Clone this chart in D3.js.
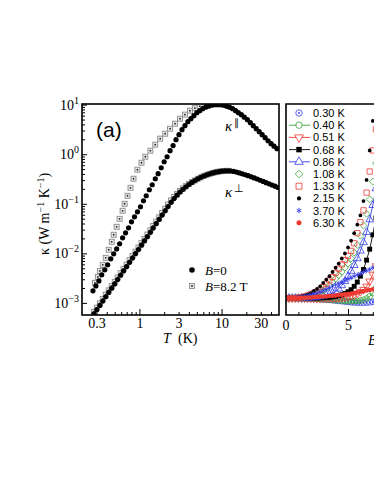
<!DOCTYPE html>
<html><head><meta charset="utf-8">
<script src="https://cdn.jsdelivr.net/npm/d3@7"></script>
<style>
html,body{margin:0;padding:0;background:#fff;}
svg{display:block;}
</style></head><body>
<div id="chart"></div>
<script>
// ---- panel (a): kappa vs T, [T (K), kappa (W/mK)] ----
const kParB0 = [[0.272,0.00175],[0.295,0.0022],[0.321,0.00278],[0.348,0.00368],[0.379,0.00464],[0.411,0.00586],[0.448,0.00775],[0.486,0.00977],[0.528,0.0123],[0.574,0.0156],[0.624,0.0206],[0.678,0.0259],[0.737,0.0327],[0.801,0.0432],[0.871,0.0545],[0.946,0.0688],[1.03,0.0868],[1.12,0.115],[1.21,0.145],[1.32,0.192],[1.43,0.242],[1.56,0.32],[1.69,0.404],[1.84,0.533],[2.0,0.705],[2.17,0.889],[2.36,1.18],[2.57,1.49],[2.79,1.96],[3.03,2.48],[3.3,3.13],[3.58,3.77],[3.89,4.54],[4.23,5.21],[4.6,6.0],[5.0,6.89],[5.43,7.57],[5.9,8.3],[6.41,8.9],[6.97,9.33],[7.58,9.77],[8.24,10.0],[8.95,10.0],[9.73,10.0],[10.6,9.77],[11.5,9.33],[12.5,8.9],[13.6,8.3],[14.8,7.57],[16.0,6.89],[17.4,6.28],[18.9,5.59],[20.6,4.98],[22.4,4.33],[24.3,3.77],[26.4,3.27],[28.7,2.85],[31.2,2.48],[33.9,2.15],[36.8,1.87],[40.0,1.63],[43.5,1.45],[47.3,1.29]];
const kParB82 = [[0.287,0.00254],[0.312,0.00335],[0.33,0.00442],[0.358,0.00586],[0.389,0.00811],[0.423,0.0118],[0.46,0.0171],[0.486,0.0237],[0.528,0.0343],[0.574,0.0497],[0.624,0.0722],[0.66,0.1],[0.717,0.145],[0.779,0.21],[0.847,0.32],[0.946,0.486],[1.06,0.673],[1.18,0.889],[1.36,1.18],[1.56,1.56],[1.79,2.06],[2.06,2.59],[2.36,3.27],[2.71,4.13],[3.12,5.21],[3.58,6.28],[4.12,7.57],[4.73,8.49],[5.43,9.33],[6.24,10.0],[7.17,10.2],[8.24,10.3],[9.46,10.2]];
const kPerpB0 = [[0.279,0.0006],[0.303,0.00073],[0.33,0.00089],[0.358,0.00109],[0.389,0.00133],[0.423,0.00163],[0.46,0.00198],[0.5,0.00242],[0.543,0.00296],[0.59,0.00361],[0.641,0.00441],[0.697,0.00538],[0.758,0.00658],[0.824,0.00804],[0.895,0.00982],[0.973,0.0119],[1.06,0.0146],[1.15,0.0178],[1.25,0.0217],[1.36,0.0265],[1.47,0.0324],[1.6,0.0396],[1.74,0.0484],[1.89,0.0591],[2.06,0.0722],[2.23,0.0877],[2.43,0.107],[2.64,0.127],[2.87,0.149],[3.12,0.172],[3.39,0.196],[3.68,0.22],[4.0,0.245],[4.35,0.27],[4.73,0.294],[5.14,0.318],[5.58,0.341],[6.07,0.363],[6.6,0.384],[7.17,0.402],[7.79,0.419],[8.47,0.433],[9.2,0.445],[10.0,0.454],[10.9,0.46],[11.8,0.462],[12.8,0.46],[14.0,0.45],[15.2,0.435],[16.5,0.419],[17.9,0.402],[19.5,0.385],[21.1,0.368],[23.0,0.349],[25.0,0.332],[27.2,0.316],[29.5,0.298],[32.1,0.282],[34.8,0.267],[37.9,0.252],[41.1,0.239],[44.7,0.226],[48.6,0.213]];
const kPerpB82 = [[0.279,0.00066],[0.303,0.0008],[0.33,0.00098],[0.358,0.0012],[0.389,0.00146],[0.423,0.00179],[0.46,0.00218],[0.5,0.00266],[0.543,0.00326],[0.59,0.00397],[0.641,0.00485],[0.697,0.00592],[0.758,0.00724],[0.824,0.00884],[0.895,0.0108],[0.973,0.0131],[1.06,0.0161],[1.15,0.0196],[1.25,0.0239],[1.36,0.0292],[1.47,0.0356],[1.6,0.0436],[1.74,0.0532],[1.89,0.065],[2.06,0.0794],[2.23,0.0965],[2.43,0.117],[2.64,0.137],[2.87,0.158],[3.12,0.181],[3.39,0.204],[3.68,0.227],[4.0,0.25],[4.35,0.273],[4.73,0.296],[5.14,0.319],[5.58,0.341],[6.07,0.363],[6.6,0.384],[7.17,0.402],[7.79,0.419],[8.47,0.433],[9.2,0.445],[10.0,0.454],[10.9,0.46],[11.8,0.462]];

const tTickLabels = [0.3, 1, 3, 10, 30];
const kDecades = [-3, -2, -1, 0, 1];

// ---- panel (b): kappa(B)/kappa(0) vs B at fixed T ----
const fieldB = [0,0.25,0.5,0.75,1,1.25,1.5,1.75,2,2.25,2.5,2.75,3,3.25,3.5,3.75,4,4.25,4.5,4.75,5,5.25,5.5,5.75,6,6.25,6.5,6.75,7,7.25];
const k030 = [1.0,1.0,0.999,0.998,0.997,0.996,0.995,0.994,0.993,0.991,0.989,0.987,0.985,0.982,0.979,0.975,0.971,0.967,0.963,0.959,0.955,0.951,0.948,0.946,0.945,0.945,0.947,0.95,0.956,0.964];
const k040 = [1.0,1.0,1.0,0.999,0.998,0.997,0.996,0.995,0.994,0.992,0.99,0.988,0.986,0.984,0.982,0.979,0.976,0.973,0.97,0.968,0.966,0.965,0.965,0.967,0.972,0.98,0.995,1.02,1.06,1.12];
const k051 = [1.0,1.0,1.0,1.0,1.0,0.999,0.999,0.998,0.998,0.997,0.997,0.997,0.997,0.998,0.999,1.0,1.0,1.003,1.007,1.012,1.02,1.03,1.04,1.055,1.075,1.1,1.14,1.2,1.28,1.38];
const k068 = [1.0,1.0,1.0,1.0,1.0,1.0,1.0,1.0,1.0,1.0,1.0,1.002,1.004,1.007,1.01,1.015,1.02,1.03,1.04,1.055,1.075,1.1,1.14,1.19,1.26,1.34,1.45,1.58,1.75,1.95];
const k086 = [1.0,1.0,1.0,1.0,1.0,1.001,1.002,1.003,1.005,1.008,1.012,1.018,1.025,1.035,1.045,1.06,1.08,1.11,1.15,1.2,1.26,1.32,1.39,1.47,1.56,1.66,1.78,1.93,2.1,2.3];
const k108 = [1.0,1.0,1.0,1.0,1.003,1.007,1.012,1.02,1.03,1.04,1.055,1.07,1.09,1.12,1.15,1.19,1.23,1.27,1.31,1.36,1.41,1.47,1.54,1.63,1.74,1.86,2.0,2.17,2.38,2.6];
const k133 = [1.0,1.0,1.0,1.002,1.006,1.012,1.02,1.03,1.045,1.06,1.075,1.1,1.13,1.17,1.21,1.25,1.3,1.35,1.4,1.45,1.5,1.56,1.65,1.77,1.9,2.04,2.25,2.5,2.75,3.0];
const k215 = [1.0,1.0,1.002,1.005,1.01,1.018,1.03,1.045,1.06,1.085,1.11,1.14,1.18,1.22,1.26,1.31,1.36,1.41,1.47,1.53,1.6,1.68,1.77,1.87,1.98,2.15,2.4,2.75,3.1,3.4];
const k370 = [1.0,1.0,1.002,1.005,1.01,1.015,1.022,1.03,1.04,1.05,1.06,1.075,1.09,1.105,1.12,1.14,1.16,1.175,1.19,1.21,1.225,1.24,1.26,1.275,1.29,1.31,1.325,1.34,1.36,1.375];
const k630 = [1.0,1.0,1.0,1.001,1.002,1.003,1.005,1.006,1.008,1.01,1.013,1.015,1.018,1.021,1.024,1.028,1.032,1.036,1.04,1.045,1.05,1.056,1.062,1.068,1.075,1.082,1.09,1.097,1.105,1.112];
const tempLabels = ['0.30 K','0.40 K','0.51 K','0.68 K','0.86 K','1.08 K','1.33 K','2.15 K','3.70 K','6.30 K'];
const bTickLabels = [0, 5];

const W = 374, H = 484;
const serif = '"Liberation Serif","Times New Roman",serif';
const sans = '"Liberation Sans",Arial,Helvetica,sans-serif';
const RED = '#ee3b32', GREEN = '#3aa53a', BLUE = '#3640e8';

const svg = d3.select('#chart').append('svg').attr('width', W).attr('height', H)
  .style('font-family', serif);

// ================= left panel =================
const L = {x0: 82, x1: 279, y0: 104, y1: 315};
const x = d3.scaleLog().domain([0.2, 50]).range([L.x0, L.x1]);
const y = d3.scaleLog().domain([5.7e-4, 10.3]).range([L.y1, L.y0]);

svg.append('clipPath').attr('id', 'clipL').append('rect')
  .attr('x', L.x0).attr('y', L.y0).attr('width', L.x1 - L.x0).attr('height', L.y1 - L.y0);

// x ticks (inward)
const tMinor = [0.3,0.4,0.5,0.6,0.7,0.8,0.9,1,2,3,4,5,6,7,8,9,10,20,30,40];
const xAxis = svg.append('g').attr('transform', `translate(0,${L.y1})`)
  .call(d3.axisBottom(x).tickValues(tMinor).tickSizeInner(-3).tickSizeOuter(0).tickPadding(3)
    .tickFormat(d => tTickLabels.includes(d) ? String(d) : ''));
xAxis.select('.domain').remove();
xAxis.selectAll('.tick').filter(d => d === 1 || d === 10).select('line').attr('y2', -6);
xAxis.selectAll('text').attr('font-family', serif).attr('font-size', 14).attr('fill', '#000');

// y ticks (inward)
const kTicks = [];
kDecades.forEach(e => { for (let m = 1; m < 10; m++) { const v = m * Math.pow(10, e); if (v <= 10.3) kTicks.push(v); } });
const yAxis = svg.append('g').attr('transform', `translate(${L.x0},0)`)
  .call(d3.axisLeft(y).tickValues(kTicks).tickSizeInner(-3).tickSizeOuter(0).tickFormat(''));
yAxis.select('.domain').remove();
yAxis.selectAll('.tick').filter(d => Math.abs(Math.log10(d) - Math.round(Math.log10(d))) < 1e-6)
  .select('line').attr('x2', 5);

kDecades.forEach(e => {
  const t = svg.append('text').attr('x', 79).attr('y', y(Math.pow(10, e)) + 5)
    .attr('text-anchor', 'end').attr('font-size', 14);
  t.append('tspan').text('10');
  t.append('tspan').attr('dy', -6).attr('font-size', 10).text(e < 0 ? '\u2212' + (-e) : String(e));
});

// data
const gL = svg.append('g').attr('clip-path', 'url(#clipL)');
function squares(data) {
  const g = gL.append('g');
  g.selectAll('rect').data(data).join('rect')
    .attr('x', d => x(d[0]) - 2.5).attr('y', d => y(d[1]) - 2.5)
    .attr('width', 5).attr('height', 5)
    .attr('fill', '#e8e8e8').attr('stroke', '#8c8c8c').attr('stroke-width', 0.9);
  g.selectAll('circle').data(data).join('circle')
    .attr('cx', d => x(d[0])).attr('cy', d => y(d[1])).attr('r', 0.9).attr('fill', '#222');
}
function dots(data) {
  gL.append('g').selectAll('circle').data(data).join('circle')
    .attr('cx', d => x(d[0])).attr('cy', d => y(d[1])).attr('r', 2.6).attr('fill', '#000');
}
squares(kParB82);
squares(kPerpB82);
dots(kParB0);
dots(kPerpB0);

svg.append('rect').attr('x', L.x0).attr('y', L.y0).attr('width', L.x1 - L.x0).attr('height', L.y1 - L.y0)
  .attr('fill', 'none').attr('stroke', '#000').attr('stroke-width', 1.6);

// labels
svg.append('text').attr('x', 96).attr('y', 137).attr('font-family', sans).attr('font-size', 21).text('(a)');

const kp = svg.append('text').attr('x', 225).attr('y', 131).attr('font-size', 15);
kp.append('tspan').attr('font-style', 'italic').text('\u03ba');
kp.append('tspan').attr('dx', 2).attr('dy', -5).attr('font-size', 10).text('\u2225');
const kt = svg.append('text').attr('x', 225).attr('y', 197).attr('font-size', 15);
kt.append('tspan').attr('font-style', 'italic').text('\u03ba');
kt.append('tspan').attr('dx', 2).attr('dy', -5).attr('font-size', 11).text('\u22a5');

const yl = svg.append('text').attr('transform', 'translate(49,214) rotate(-90)')
  .attr('text-anchor', 'middle').attr('font-size', 14);
yl.append('tspan').text('\u03ba  (W m');
yl.append('tspan').attr('dy', -5).attr('font-size', 10).text('\u22121');
yl.append('tspan').attr('dy', 5).text(' K');
yl.append('tspan').attr('dy', -5).attr('font-size', 10).text('\u22121');
yl.append('tspan').attr('dy', 5).text(')');

const xl = svg.append('text').attr('y', 343).attr('font-size', 14);
xl.append('tspan').attr('x', 163).attr('font-style', 'italic').text('T');
xl.append('tspan').attr('x', 178).text('(K)');

// legend left
svg.append('circle').attr('cx', 192).attr('cy', 270).attr('r', 2.8).attr('fill', '#000');
const lg1 = svg.append('text').attr('x', 205).attr('y', 274.5).attr('font-size', 13);
lg1.append('tspan').attr('font-style', 'italic').text('B');
lg1.append('tspan').text('=0');
svg.append('rect').attr('x', 189.5).attr('y', 283.5).attr('width', 5).attr('height', 5)
  .attr('fill', '#e8e8e8').attr('stroke', '#8c8c8c').attr('stroke-width', 0.9);
svg.append('circle').attr('cx', 192).attr('cy', 286).attr('r', 0.9).attr('fill', '#222');
const lg2 = svg.append('text').attr('x', 205).attr('y', 290.5).attr('font-size', 13);
lg2.append('tspan').attr('font-style', 'italic').text('B');
lg2.append('tspan').text('=8.2 T');

// ================= right panel =================
const R = {x0: 286, x1: 460, y0: 104, y1: 315};
const xB = d3.scaleLinear().domain([0, 14]).range([R.x0, R.x0 + 12.4 * 14]);
const yR = d3.scaleLinear().domain([0.8, 3.3]).range([R.y1, R.y0]);

svg.append('clipPath').attr('id', 'clipR').append('rect')
  .attr('x', R.x0).attr('y', R.y0).attr('width', R.x1 - R.x0).attr('height', R.y1 - R.y0);

const bAxis = svg.append('g').attr('transform', `translate(0,${R.y1})`)
  .call(d3.axisBottom(xB).tickValues([1,2,3,4,5,6,7,8,9,10]).tickSizeInner(-3).tickSizeOuter(0).tickPadding(5)
    .tickFormat(d => bTickLabels.includes(d) ? String(d) : ''));
bAxis.select('.domain').remove();
bAxis.selectAll('.tick').filter(d => d === 5 || d === 10).select('line').attr('y2', -6);
bAxis.selectAll('text').attr('font-family', serif).attr('font-size', 14).attr('fill', '#000');
svg.append('text').attr('x', xB(0)).attr('y', 330).attr('text-anchor', 'middle').attr('font-size', 14).text('0');

const sym = (type, size) => d3.symbol().type(type).size(size)();
const diamond = d3.symbolDiamond2 || d3.symbolDiamond;
const aster = d3.symbolAsterisk || d3.symbolCross;
const series = [
  {v: k030, color: BLUE, type: d3.symbolCircle, size: 26, fill: false, line: false, dot: true},
  {v: k040, color: GREEN, type: d3.symbolCircle, size: 26, fill: false, line: true},
  {v: k051, color: RED, type: d3.symbolTriangle, size: 26, fill: false, line: true, rot: 180},
  {v: k068, color: '#000', type: d3.symbolSquare, size: 24, fill: true, line: true},
  {v: k086, color: BLUE, type: d3.symbolTriangle, size: 26, fill: false, line: true},
  {v: k108, color: GREEN, type: diamond, size: 30, fill: false, line: false},
  {v: k133, color: RED, type: d3.symbolSquare, size: 28, fill: false, line: false},
  {v: k215, color: '#000', type: d3.symbolCircle, size: 11, fill: true, line: false},
  {v: k370, color: BLUE, type: aster, size: 16, fill: false, line: false, thin: true},
  {v: k630, color: RED, type: d3.symbolCircle, size: 16, fill: true, line: false}
];

function marker(g, s, cx, cy) {
  const p = g.append('path').attr('d', sym(s.type, s.size))
    .attr('transform', `translate(${cx},${cy})` + (s.rot ? ` rotate(${s.rot})` : ''))
    .attr('fill', s.fill ? s.color : 'none')
    .attr('stroke', s.fill ? 'none' : s.color).attr('stroke-width', s.thin ? 0.9 : 0.8);
  if (s.dot) g.append('circle').attr('cx', cx).attr('cy', cy).attr('r', 0.9).attr('fill', s.color);
  return p;
}

const gR = svg.append('g').attr('clip-path', 'url(#clipR)');
series.forEach(s => {
  const pts = fieldB.map((b, i) => [b, s.v[i]]);
  if (s.line) {
    gR.append('path').datum(pts)
      .attr('d', d3.line().x(d => xB(d[0])).y(d => yR(d[1])))
      .attr('fill', 'none').attr('stroke', s.color).attr('stroke-width', 0.9);
  }
  const g = gR.append('g');
  pts.forEach(d => marker(g, s, xB(d[0]), yR(d[1])));
});

// frame (left, top, bottom)
svg.append('path').attr('d', `M${R.x1},${R.y0}H${R.x0}V${R.y1}H${R.x1}`)
  .attr('fill', 'none').attr('stroke', '#000').attr('stroke-width', 1.6);

// legend right
const lgR = svg.append('g');
series.forEach((s, i) => {
  const cy = 113 + 12.2 * i;
  if (s.line) lgR.append('line').attr('x1', 289).attr('x2', 310).attr('y1', cy).attr('y2', cy)
    .attr('stroke', s.color).attr('stroke-width', 0.9);
  const big = Object.assign({}, s, {size: s.size * 1.25});
  if (s.line) lgR.append('circle').attr('cx', 299).attr('cy', cy).attr('r', 2.6).attr('fill', '#fff');
  marker(lgR, big, 299, cy);
  lgR.append('text').attr('x', 313).attr('y', cy + 4).attr('font-family', sans).attr('font-size', 11)
    .text(tempLabels[i]);
});

const bl = svg.append('text').attr('y', 345).attr('font-size', 14);
bl.append('tspan').attr('x', 368).attr('font-style', 'italic').text('B');
bl.append('tspan').attr('x', 383).text('(T)');
</script>
</body></html>
